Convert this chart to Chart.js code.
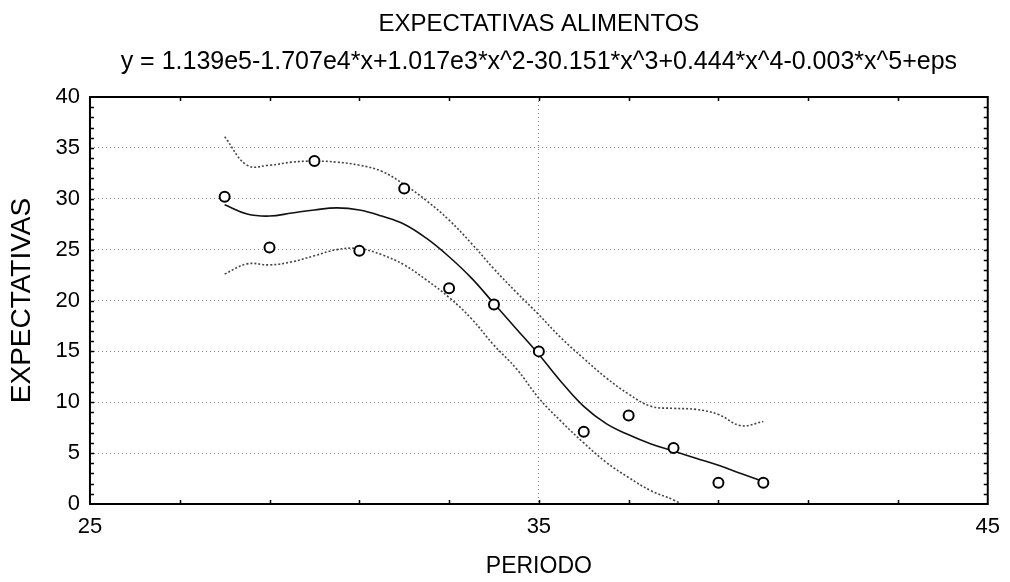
<!DOCTYPE html>
<html>
<head>
<meta charset="utf-8">
<title>Expectativas alimentos</title>
<script src="https://cdn.jsdelivr.net/npm/chart.js"></script>
<style>
  html, body { margin: 0; padding: 0; background: #fff; }
  .chart-container { width: 1010px; height: 582px; }
</style>
</head>
<body>
<div class="chart-container"><canvas id="chart1"></canvas></div>
<script>
// observed values
const periodo = [28, 29, 30, 31, 32, 33, 34, 35, 36, 37, 38, 39, 40];
const expectativas = [30.2, 25.2, 33.7, 24.9, 31.0, 21.2, 19.6, 15.0, 7.1, 8.7, 5.5, 2.1, 2.1];

// fitted curve and bands
const curveX = [28, 28.5, 29, 29.5, 30, 30.5, 31, 31.5, 32, 32.5, 33, 33.5, 34, 34.5, 35, 35.5, 36, 36.5, 37, 37.5, 38, 38.5, 39, 39.5, 40];
const fitY = [29.4, 28.5, 28.3, 28.6, 28.9, 29.1, 28.9, 28.3, 27.5, 26.1, 24.3, 22.2, 19.7, 17.2, 14.7, 12.0, 9.6, 7.9, 6.8, 5.9, 5.2, 4.5, 3.8, 3.0, 2.2];
const upperY = [36.1, 33.3, 33.3, 33.6, 33.7, 33.6, 33.3, 32.7, 31.4, 29.8, 27.9, 25.6, 23.1, 20.8, 18.6, 16.3, 14.3, 12.4, 10.8, 9.6, 9.4, 9.3, 8.8, 7.7, 8.1];
const lowerY = [22.6, 23.6, 23.5, 23.8, 24.4, 25.0, 25.1, 24.5, 23.5, 22.0, 20.3, 18.2, 15.6, 13.3, 10.4, 8.1, 6.0, 4.1, 2.6, 1.3, 0.4, -0.8];

const xTicks = [25, 35, 45];
const yTicks = [0, 5, 10, 15, 20, 25, 30, 35, 40];

const font = '"Liberation Sans", Arial, Helvetica, sans-serif';

function pairs(xs, ys) {
    return ys.map((v, i) => ({ x: xs[i], y: v }));
}

const framePlugin = {
    id: 'frame',
    afterDraw(chart) {
        const { ctx, chartArea: a, scales: { x, y } } = chart;
        ctx.save();
        ctx.strokeStyle = '#000';
        ctx.lineWidth = 1.5;
        // minor ticks, inward
        for (let v = 1; v < 40; v++) {
            const py = Math.round(y.getPixelForValue(v)) + 0.5;
            ctx.beginPath();
            ctx.moveTo(a.left, py); ctx.lineTo(a.left + 4, py);
            ctx.moveTo(a.right, py); ctx.lineTo(a.right - 4, py);
            ctx.stroke();
        }
        for (let v = 27; v < 45; v += 2) {
            const px = Math.round(x.getPixelForValue(v)) + 0.5;
            ctx.beginPath();
            ctx.moveTo(px, a.bottom); ctx.lineTo(px, a.bottom - 4);
            ctx.moveTo(px, a.top); ctx.lineTo(px, a.top + 4);
            ctx.stroke();
        }
        ctx.lineWidth = 2;
        ctx.strokeRect(a.left, a.top, a.right - a.left, a.bottom - a.top);
        ctx.restore();
    }
};

new Chart(document.getElementById('chart1'), {
    type: 'scatter',
    data: {
        datasets: [{
            label: 'EXPECTATIVAS',
            data: pairs(periodo, expectativas),
            showLine: false,
            pointStyle: 'circle',
            pointRadius: 5,
            pointBorderWidth: 2,
            pointBorderColor: '#000',
            pointBackgroundColor: '#fff',
            order: 0
        }, {
            label: 'ajuste',
            data: pairs(curveX, fitY),
            showLine: true,
            borderColor: '#111',
            borderWidth: 1.6,
            pointRadius: 0,
            tension: 0.4,
            order: 1
        }, {
            label: 'superior',
            data: pairs(curveX, upperY),
            showLine: true,
            borderColor: '#444',
            borderWidth: 1.6,
            borderDash: [2, 2],
            pointRadius: 0,
            tension: 0.4,
            order: 2
        }, {
            label: 'inferior',
            data: pairs(curveX, lowerY),
            showLine: true,
            borderColor: '#444',
            borderWidth: 1.6,
            borderDash: [2, 2],
            pointRadius: 0,
            tension: 0.4,
            order: 3
        }]
    },
    options: {
        responsive: true,
        maintainAspectRatio: false,
        animation: false,
        layout: { autoPadding: false, padding: { left: 0, right: 17, top: 0, bottom: 0 } },
        plugins: {
            legend: { display: false },
            tooltip: { enabled: false },
            title: {
                display: true,
                fullSize: false,
                text: 'EXPECTATIVAS ALIMENTOS',
                color: '#000',
                font: { family: font, size: 24, weight: 'normal', lineHeight: 1.2 },
                padding: { top: 9.6, bottom: 0 }
            },
            subtitle: {
                display: true,
                fullSize: false,
                text: 'y = 1.139e5-1.707e4*x+1.017e3*x^2-30.151*x^3+0.444*x^4-0.003*x^5+eps',
                color: '#000',
                font: { family: font, size: 25, weight: 'normal', lineHeight: 1.2 },
                padding: { top: 8.6, bottom: 20 }
            }
        },
        scales: {
            x: {
                type: 'linear',
                min: 25,
                max: 45,
                afterBuildTicks: s => { s.ticks = xTicks.map(v => ({ value: v })); },
                ticks: {
                    color: '#000',
                    padding: 10,
                    maxRotation: 0,
                    font: { family: font, size: 22 }
                },
                grid: {
                    color: '#888',
                    lineWidth: 1,
                    drawTicks: false
                },
                border: { display: false, dash: [1, 3] },
                title: {
                    display: true,
                    text: 'PERIODO',
                    color: '#000',
                    font: { family: font, size: 23, lineHeight: 1.2 },
                    padding: { top: 2.8, bottom: 1.2 }
                }
            },
            y: {
                type: 'linear',
                min: 0,
                max: 40,
                afterBuildTicks: s => { s.ticks = yTicks.map(v => ({ value: v })); },
                ticks: {
                    color: '#000',
                    padding: 10,
                    font: { family: font, size: 22 }
                },
                grid: {
                    color: '#888',
                    lineWidth: 1,
                    drawTicks: false
                },
                border: { display: false, dash: [1, 3] },
                title: {
                    display: true,
                    text: 'EXPECTATIVAS',
                    color: '#000',
                    font: { family: font, size: 28, lineHeight: 1.2 },
                    padding: { top: 5.7, bottom: 6.2 }
                }
            }
        }
    },
    plugins: [framePlugin]
});
</script>
</body>
</html>
